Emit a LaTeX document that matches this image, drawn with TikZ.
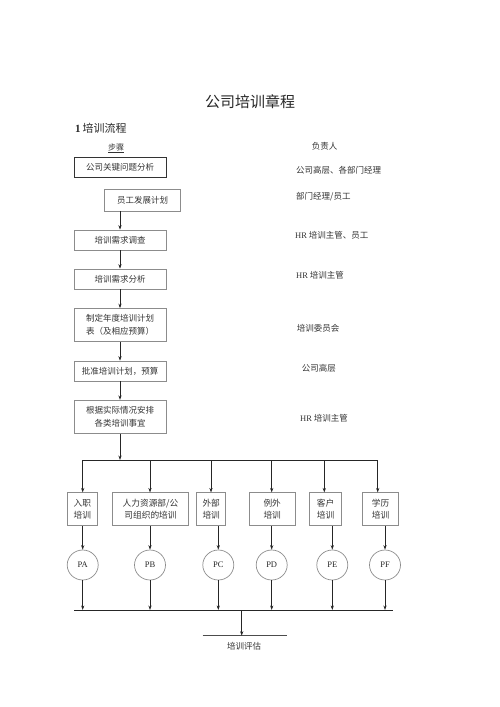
\documentclass[tikz,border=0pt]{standalone}
\usepackage{fontspec}
\setmainfont{Liberation Serif}
\newfontfamily\cjk{Noto Sans CJK SC}
\usetikzlibrary{arrows.meta,shapes.geometric}
\begin{document}
\begin{tikzpicture}[x=1pt,y=-1pt,
  stepbox/.style={draw=black!45, line width=0.7pt, minimum width=92pt, inner sep=0pt,
    font=\cjk\fontsize{8.5}{12.5}\selectfont, text=black!80, align=center},
  kindbox/.style={draw=black!45, line width=0.7pt, minimum height=33pt, inner sep=0pt,
    font=\cjk\fontsize{8.7}{12.3}\selectfont, text=black!80, align=center},
  pnode/.style={ellipse, draw=black!45, line width=0.7pt, minimum width=31pt, minimum height=30pt,
    inner sep=0pt, font=\rmfamily\fontsize{8.5}{10}\selectfont, text=black!85},
  owner/.style={anchor=west, inner sep=0pt, font=\cjk\fontsize{8.5}{10}\selectfont, text=black!80},
  arr/.style={-{Stealth[length=4.5pt,width=3.2pt]}, line width=0.8pt, black!85},
  busline/.style={line width=0.8pt, black!85}]
\useasboundingbox (0,0) rectangle (500,707);

% headings
\node[inner sep=0pt, font=\cjk\fontsize{15}{18}\selectfont, text=black!85] (title) at (250,101.5) {公司培训章程};
\node[anchor=west, inner sep=0pt, font=\fontsize{11}{13}\selectfont, text=black!85] (sec) at (75,128) {\textbf{1}\,{\cjk 培训流程}};
\node[inner sep=0pt, font=\cjk\fontsize{8}{10}\selectfont, text=black!80] (steps) at (116,148) {\underline{步骤}};
\node[owner] (resp) at (311.7,146.7) {负责人};

% steps
\node[stepbox, draw=black!80, minimum height=20pt] (b1) at (120,167.7) {公司关键问题分析};
\node[stepbox, minimum width=76pt, minimum height=22pt] (b2) at (142.5,200) {员工发展计划};
\node[stepbox, minimum height=20pt] (b3) at (120,240) {培训需求调查};
\node[stepbox, minimum height=20pt] (b4) at (120,279) {培训需求分析};
\node[stepbox, minimum height=33pt] (b5) at (120,325) {制定年度培训计划\\表（及相应预算）};
\node[stepbox, minimum height=20pt] (b6) at (120,371) {批准培训计划，预算};
\node[stepbox, minimum height=33pt] (b7) at (120,416.7) {根据实际情况安排\\各类培训事宜};

% owners
\node[owner] (r1) at (296,170) {公司高层、各部门经理};
\node[owner] (r2) at (296,196.7) {部门经理/员工};
\node[owner] (r3) at (295,235) {{\rmfamily HR} 培训主管、员工};
\node[owner] (r4) at (296,275) {{\rmfamily HR} 培训主管};
\node[owner] (r5) at (296.7,328.3) {培训委员会};
\node[owner] (r6) at (301.7,368.3) {公司高层};
\node[owner] (r7) at (300,418.3) {{\rmfamily HR} 培训主管};

% step arrows
\draw[arr] (b2.south -| b3.north) -- (b3.north);
\draw[arr] (b3.south) -- (b4.north);
\draw[arr] (b4.south) -- (b5.north);
\draw[arr] (b5.south) -- (b6.north);
\draw[arr] (b6.south) -- (b7.north);

% upper bus
\coordinate (uA) at (82.7,460);
\coordinate (uB) at (150,460);
\coordinate (uC) at (211,460);
\coordinate (uD) at (271.7,460);
\coordinate (uE) at (324.3,460);
\coordinate (uF) at (377.7,460);
\coordinate (busT) at (120,460);
\draw[busline] (uA) -- (uF);
\draw[arr] (b7.south) -- (busT);

% training kinds
\node[kindbox, minimum width=30pt] (tA) at (82.3,509.3) {入职\\培训};
\node[kindbox, minimum width=75.6pt] (tB) at (150.5,509.3) {人力资源部/公\\司组织的培训};
\node[kindbox, minimum width=29pt] (tC) at (211.2,509.3) {外部\\培训};
\node[kindbox, minimum width=45.7pt] (tD) at (272.2,509.3) {例外\\培训};
\node[kindbox, minimum width=32.4pt] (tE) at (325.5,509.3) {客户\\培训};
\node[kindbox, minimum width=35.6pt] (tF) at (380.5,509.3) {学历\\培训};

\draw[arr] (uA) -- (uA |- tA.north);
\draw[arr] (uB) -- (uB |- tB.north);
\draw[arr] (uC) -- (uC |- tC.north);
\draw[arr] (uD) -- (uD |- tD.north);
\draw[arr] (uE) -- (uE |- tE.north);
\draw[arr] (uF) -- (uF |- tF.north);

% ellipses
\node[pnode] (eA) at (82.7,565) {PA};
\node[pnode] (eB) at (150,565) {PB};
\node[pnode] (eC) at (218.3,565) {PC};
\node[pnode] (eD) at (271.7,565) {PD};
\node[pnode] (eE) at (332.3,565) {PE};
\node[pnode] (eF) at (385,565) {PF};

\draw[arr] (tA.south -| eA.north) -- (eA.north);
\draw[arr] (tB.south -| eB.north) -- (eB.north);
\draw[arr] (tC.south -| eC.north) -- (eC.north);
\draw[arr] (tD.south -| eD.north) -- (eD.north);
\draw[arr] (tE.south -| eE.north) -- (eE.north);
\draw[arr] (tF.south -| eF.north) -- (eF.north);

% lower bus
\coordinate (bL) at (74,610);
\coordinate (bR) at (393.3,610);
\coordinate (bM) at (241.7,610);
\draw[busline] (bL) -- (bR);
\draw[arr] (eA.south) -- (eA.south |- bL);
\draw[arr] (eB.south) -- (eB.south |- bL);
\draw[arr] (eC.south) -- (eC.south |- bL);
\draw[arr] (eD.south) -- (eD.south |- bL);
\draw[arr] (eE.south) -- (eE.south |- bL);
\draw[arr] (eF.south) -- (eF.south |- bL);

% evaluation
\coordinate (eL) at (202.7,635.7);
\coordinate (eR) at (287.3,635.7);
\draw[line width=0.7pt, black!70] (eL) -- (eR);
\draw[arr] (bM) -- (bM |- eL);
\node[inner sep=0pt, font=\cjk\fontsize{8.5}{10}\selectfont, text=black!80] (eval) at (244,646.7) {培训评估};
\end{tikzpicture}
\end{document}
